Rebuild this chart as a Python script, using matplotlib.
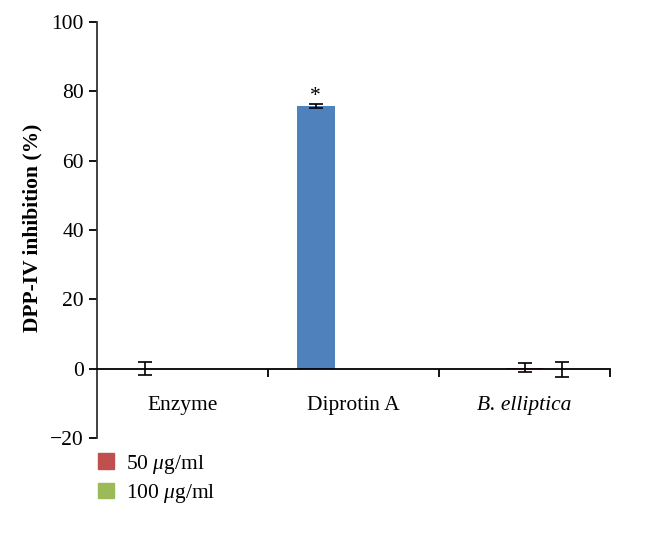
import numpy as np
import matplotlib
matplotlib.use("Agg")
from matplotlib import pyplot as plt
from matplotlib.patches import Patch

plt.rcParams['font.family'] = ['Liberation Serif', 'DejaVu Serif']
plt.rcParams['mathtext.fontset'] = 'custom'
plt.rcParams['mathtext.it'] = 'Liberation Serif:italic'
plt.rcParams['mathtext.rm'] = 'Liberation Serif'

categories = ['Enzyme', 'Diprotin A', 'B. elliptica']
series_names = ['Control', '50 $\\mu$g/ml', '100 $\\mu$g/ml']
colors = ['#4F81BD', '#C0504D', '#9BBB59']
# values per series, one per category (nan = no bar)
control = [0.0, 75.8, np.nan]
conc50 = [np.nan, np.nan, 0.3]
conc100 = [np.nan, np.nan, -0.2]
control_err = [1.9, 0.5, np.nan]
conc50_err = [np.nan, np.nan, 1.2]
conc100_err = [np.nan, np.nan, 2.2]
star_value = 78.5

values = [control, conc50, conc100]
errors = [control_err, conc50_err, conc100_err]

fs = 15.5

fig = plt.figure(figsize=(6.56, 5.46), dpi=100)
ax = fig.add_axes([97/656, 1-438/546, (610-97)/656, (438-22)/546])

x = np.arange(len(categories))
w = 0.222
for i, (v, e, c) in enumerate(zip(values, errors, colors)):
    pos = x + (i - 1) * w
    ax.bar(pos, v, width=w, color=c, zorder=2)
    ax.errorbar(pos, v, yerr=e, fmt='none', ecolor='black', elinewidth=1.2,
                capsize=5, capthick=1.2, zorder=3)

ax.text(x[1] - w, star_value, '*', ha='center', va='center', fontsize=fs)

ax.set_xlim(-0.5, 2.5)
ax.set_ylim(-20, 100)
ax.set_yticks([-20, 0, 20, 40, 60, 80, 100])
ax.set_yticklabels(['\u221220', '0', '20', '40', '60', '80', '100'])
ax.set_ylabel('DPP-IV inhibition (%)', fontweight='bold', fontsize=fs, labelpad=2)
ax.yaxis.set_label_coords(-0.107, 0.505)

ax.spines['top'].set_visible(False)
ax.spines['right'].set_visible(False)
ax.spines['bottom'].set_position(('data', 0))
ax.spines['left'].set_color('#333333')
ax.spines['left'].set_linewidth(1.3)
ax.spines['bottom'].set_linewidth(1.3)

ax.set_xticks(x)
ax.set_xticklabels(categories)
ax.get_xticklabels()[2].set_style('italic')
ax.set_xticks([0.5, 1.5, 2.5], minor=True)
ax.tick_params(axis='x', which='major', length=0, pad=20, labelsize=fs)
ax.tick_params(axis='x', which='minor', length=6, width=1.3, direction='out')
ax.tick_params(axis='y', length=6, width=1.3, labelsize=fs)

handles = [Patch(color=colors[1], label=series_names[1]),
           Patch(color=colors[2], label=series_names[2])]
fig.legend(handles=handles, loc='upper left', bbox_to_anchor=(0.137, 0.187),
           frameon=False, fontsize=fs, handlelength=0.7, handleheight=0.7,
           handletextpad=0.6, labelspacing=0.3, borderaxespad=0)

fig.savefig('out.png', dpi=100)
